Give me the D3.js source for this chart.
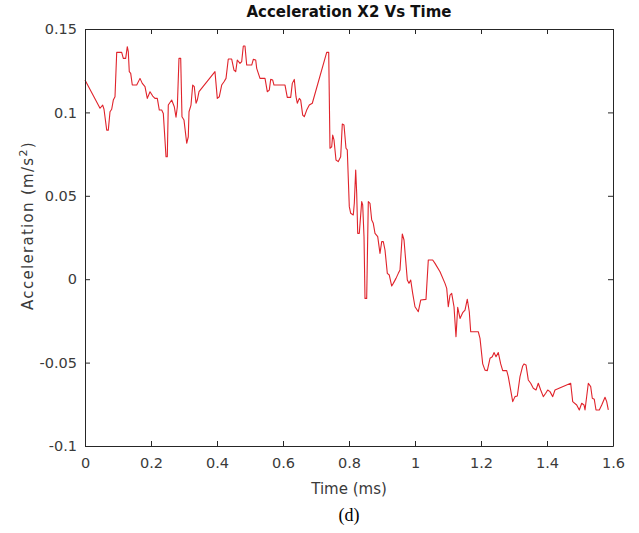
<!DOCTYPE html>
<meta charset="utf-8">
<body style="margin:0;background:#fff">
<script src="https://d3js.org/d3.v7.min.js"></script>
<div id="my_dataviz"></div>
<script>
    // time values (ms)
    var time = [0.000, 0.0455, 0.0536, 0.0576, 0.0658, 0.0706, 0.0758, 0.0809, 0.0858, 0.0909,
        0.0961, 0.1112, 0.1161, 0.1233, 0.1282, 0.1312, 0.1342, 0.1385, 0.1433, 0.1567,
        0.1667, 0.1736, 0.1818, 0.1888, 0.1970, 0.2052, 0.2121, 0.2191, 0.2252, 0.2324,
        0.2373, 0.2455, 0.2494, 0.2524, 0.2627, 0.2706, 0.2758, 0.2798, 0.2848, 0.2900,
        0.2939, 0.3000, 0.3082, 0.3130, 0.3152, 0.3212, 0.3264, 0.3312, 0.3364, 0.3403,
        0.3455, 0.3939, 0.4009, 0.4070, 0.4142, 0.4212, 0.4273, 0.4342, 0.4445, 0.4515,
        0.4567, 0.4615, 0.4697, 0.4748, 0.4797, 0.4848, 0.4900, 0.5052, 0.5100, 0.5173,
        0.5203, 0.5303, 0.5455, 0.5524, 0.5585, 0.5627, 0.5688, 0.5727, 0.5909, 0.6061,
        0.6130, 0.6233, 0.6282, 0.6342, 0.6394, 0.6433, 0.6494, 0.6536, 0.6597, 0.6645,
        0.6718, 0.6797, 0.6888, 0.7324, 0.7385, 0.7424, 0.7476, 0.7506, 0.7545, 0.7606,
        0.7676, 0.7748, 0.7797, 0.7848, 0.7909, 0.7948, 0.8009, 0.8052, 0.8130, 0.8161,
        0.8203, 0.8233, 0.8264, 0.8312, 0.8385, 0.8415, 0.8455, 0.8485, 0.8536, 0.8585,
        0.8636, 0.8688, 0.8736, 0.8788, 0.8870, 0.8939, 0.8991, 0.9039, 0.9091, 0.9161,
        0.9221, 0.9294, 0.9342, 0.9424, 0.9494, 0.9545, 0.9615, 0.9667, 0.9767, 0.9818,
        0.9870, 0.9930, 1.0000, 1.0100, 1.0173, 1.0333, 1.0403, 1.0536, 1.0606, 1.0758,
        1.0909, 1.0961, 1.1009, 1.1061, 1.1112, 1.1182, 1.1242, 1.1294, 1.1364, 1.1445,
        1.1515, 1.1585, 1.1645, 1.1688, 1.1918, 1.1970, 1.2052, 1.2121, 1.2191, 1.2273,
        1.2342, 1.2394, 1.2455, 1.2524, 1.2597, 1.2658, 1.2779, 1.2827, 1.2961, 1.3030,
        1.3100, 1.3182, 1.3264, 1.3303, 1.3364, 1.3433, 1.3506, 1.3585, 1.3667, 1.3736,
        1.3809, 1.3888, 1.3961, 1.4021, 1.4091, 1.4173, 1.4242, 1.4718, 1.4779, 1.4900,
        1.4979, 1.5052, 1.5121, 1.5152, 1.5252, 1.5324, 1.5373, 1.5433, 1.5485, 1.5585,
        1.5658, 1.5758, 1.5809, 1.5858];

    // acceleration values (m/s^2)
    var accel = [0.1194, 0.1025, 0.1044, 0.1019, 0.0894, 0.0894, 0.1004, 0.1019, 0.1074, 0.1094,
        0.1360, 0.1360, 0.1324, 0.1324, 0.1394, 0.1364, 0.1244, 0.1234, 0.1164, 0.1164,
        0.1204, 0.1174, 0.1154, 0.1084, 0.1124, 0.1098, 0.1084, 0.1084, 0.1014, 0.1014,
        0.0994, 0.0734, 0.0734, 0.1044, 0.1074, 0.1034, 0.0971, 0.1034, 0.1324, 0.1324,
        0.0974, 0.0954, 0.0815, 0.0854, 0.1004, 0.1044, 0.1164, 0.1154, 0.1055, 0.1074,
        0.1124, 0.1244, 0.1084, 0.1094, 0.1164, 0.1184, 0.1204, 0.1320, 0.1320, 0.1254,
        0.1244, 0.1314, 0.1294, 0.1304, 0.1398, 0.1398, 0.1284, 0.1284, 0.1318, 0.1314,
        0.1264, 0.1204, 0.1204, 0.1124, 0.1134, 0.1198, 0.1194, 0.1164, 0.1164, 0.1164,
        0.1090, 0.1090, 0.1174, 0.1198, 0.1094, 0.1055, 0.1084, 0.1074, 0.0984, 0.0974,
        0.1014, 0.1044, 0.1055, 0.1360, 0.1360, 0.0785, 0.0794, 0.0864, 0.0835, 0.0715,
        0.0705, 0.0734, 0.0930, 0.0924, 0.0785, 0.0775, 0.0435, 0.0395, 0.0385, 0.0455,
        0.0655, 0.0515, 0.0275, 0.0275, 0.0465, 0.0445, 0.0255, -0.0115, -0.0115, 0.0465,
        0.0455, 0.0355, 0.0335, 0.0275, 0.0255, 0.0155, 0.0225, 0.0225, 0.0175, 0.0035,
        0.0025, -0.0041, -0.0025, 0.0005, 0.0035, 0.0055, 0.0271, 0.0235, -0.0005, -0.0025,
        -0.0005, -0.0085, -0.0165, -0.0195, -0.0125, -0.0121, 0.0115, 0.0115, 0.0095, 0.0045,
        -0.0025, -0.0055, -0.0165, -0.0095, -0.0085, -0.0165, -0.0345, -0.0169, -0.0235, -0.0201,
        -0.0185, -0.0120, -0.0195, -0.0315, -0.0315, -0.0355, -0.0508, -0.0545, -0.0548, -0.0474,
        -0.0465, -0.0440, -0.0465, -0.0440, -0.0508, -0.0548, -0.0548, -0.0584, -0.0734, -0.0704,
        -0.0700, -0.0584, -0.0520, -0.0508, -0.0514, -0.0604, -0.0624, -0.0654, -0.0664, -0.0624,
        -0.0664, -0.0704, -0.0684, -0.0664, -0.0674, -0.0704, -0.0664, -0.0624, -0.0734, -0.0754,
        -0.0784, -0.0744, -0.0754, -0.0784, -0.0624, -0.0644, -0.0714, -0.0720, -0.0784, -0.0784,
        -0.0754, -0.0708, -0.0734, -0.0784];

    var xTicks = [0, 0.2, 0.4, 0.6, 0.8, 1, 1.2, 1.4, 1.6];
    var yTicks = [-0.1, -0.05, 0, 0.05, 0.1, 0.15];

    var data = time.map(function(t, i) { return {t: t, a: accel[i]}; });

    // set the dimensions and margins of the graph
    var margin = {top: 29, right: 26, bottom: 87, left: 85},
        width = 639 - margin.left - margin.right,
        height = 533 - margin.top - margin.bottom;

    var svg = d3.select("#my_dataviz")
      .append("svg")
        .attr("width", 639)
        .attr("height", 533)
        .style("display", "block")
      .append("g")
        .attr("transform", "translate(" + margin.left + "," + margin.top + ")");

    var x = d3.scaleLinear().domain([0, 1.6]).range([0, width]);
    var y = d3.scaleLinear().domain([-0.1, 0.15]).range([height, 0]);

    var axisColor = "#262626";
    var font = "'DejaVu Sans', Verdana, sans-serif";
    // plain hyphen for negatives, like the original
    var fmt = function(d) { return String(d); };

    // the line
    svg.append("path")
      .datum(data)
      .attr("fill", "none")
      .attr("stroke", "#e0232b")
      .attr("stroke-width", 1.1)
      .attr("stroke-linejoin", "round")
      .attr("d", d3.line()
        .x(function(d) { return x(d.t); })
        .y(function(d) { return y(d.a); }));

    // bottom axis, ticks pointing in
    var xAxis = svg.append("g")
      .attr("transform", "translate(0," + height + ")")
      .call(d3.axisBottom(x).tickValues(xTicks).tickSizeInner(-5).tickSizeOuter(0)
        .tickPadding(12).tickFormat(fmt));
    // top axis
    var xTop = svg.append("g")
      .call(d3.axisTop(x).tickValues(xTicks).tickSizeInner(-5).tickSizeOuter(0).tickFormat(""));
    // left axis
    var yAxis = svg.append("g")
      .call(d3.axisLeft(y).tickValues(yTicks).tickSizeInner(-5).tickSizeOuter(0)
        .tickPadding(8).tickFormat(fmt));
    // right axis
    var yRight = svg.append("g")
      .attr("transform", "translate(" + width + ",0)")
      .call(d3.axisRight(y).tickValues(yTicks).tickSizeInner(-5).tickSizeOuter(0).tickFormat(""));

    [xAxis, xTop, yAxis, yRight].forEach(function(g) {
      g.select(".domain").attr("stroke", axisColor).attr("stroke-width", 1);
      g.selectAll(".tick line").attr("stroke", axisColor);
      g.selectAll(".tick text")
        .attr("fill", "#3a3a3a")
        .style("font-family", font)
        .style("font-size", "14.5px");
    });

    // title
    svg.append("text")
      .attr("x", width / 2)
      .attr("y", -12)
      .attr("text-anchor", "middle")
      .style("font-family", font)
      .style("font-size", "15px")
      .style("font-weight", "bold")
      .attr("fill", "#111")
      .text("Acceleration X2 Vs Time");

    // X axis label
    svg.append("text")
      .attr("x", width / 2)
      .attr("y", height + 48)
      .attr("text-anchor", "middle")
      .style("font-family", font)
      .style("font-size", "15px")
      .attr("fill", "#3a3a3a")
      .text("Time (ms)");

    // Y axis label
    var yl = svg.append("text")
      .attr("transform", "translate(-52," + (height / 2 - 12) + ") rotate(-90)")
      .attr("text-anchor", "middle")
      .style("font-family", font)
      .style("font-size", "15px")
      .style("letter-spacing", "1.3px")
      .attr("fill", "#3a3a3a");
    yl.append("tspan").text("Acceleration (m/s");
    yl.append("tspan").attr("dy", -6).style("font-size", "11px").text("2");
    yl.append("tspan").attr("dy", 6).text(")");

    // caption
    svg.append("text")
      .attr("x", width / 2)
      .attr("y", height + 75)
      .attr("text-anchor", "middle")
      .style("font-family", "'Liberation Serif', 'Times New Roman', serif")
      .style("font-size", "18px")
      .attr("fill", "#000")
      .text("(d)");
</script>
</body>
